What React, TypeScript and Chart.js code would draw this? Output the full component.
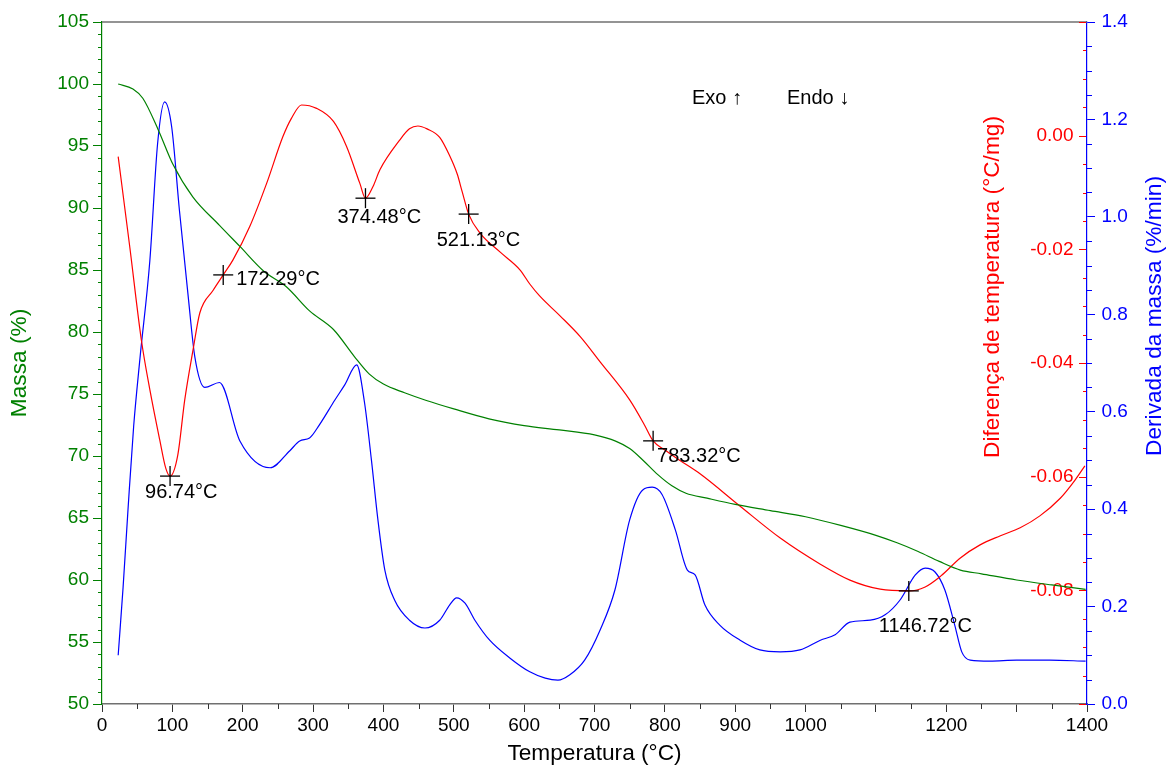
import React, { useEffect, useRef } from 'react';
import { Chart, registerables } from 'chart.js';

Chart.register(...registerables);

// ---------- DATA ----------
const massTemps = [23, 44, 58, 80, 101, 129, 167, 196, 230, 262, 295, 329, 359, 380, 400, 430, 460, 500, 550, 600, 650, 700, 730, 750, 770, 790, 810, 830, 860, 900, 950, 1000, 1050, 1100, 1130, 1160, 1190, 1220, 1250, 1300, 1350, 1398];
const massValues = [100.0, 99.6, 98.85, 96.3, 93.5, 90.9, 88.6, 86.9, 84.9, 83.65, 81.7, 80.2, 78.0, 76.6, 75.8, 75.1, 74.5, 73.8, 73.0, 72.45, 72.1, 71.7, 71.2, 70.6, 69.6, 68.5, 67.6, 67.0, 66.6, 66.1, 65.6, 65.1, 64.4, 63.6, 63.0, 62.3, 61.5, 60.8, 60.5, 60.0, 59.6, 59.25];

const dtaTemps = [23, 39.4, 56, 68, 82, 90.6, 96.74, 107.7, 117.6, 129.4, 139, 158, 172.29, 186, 210, 234, 257, 269, 283.6, 305, 329, 347.6, 366.5, 374.48, 385, 395, 423, 437, 449, 462, 480, 494, 505, 512, 521.13, 537, 566, 594, 608, 622, 651, 680, 708, 750, 771, 783.32, 800, 821, 850, 907, 964, 1021, 1063, 1106, 1146.72, 1170, 1192, 1220, 1248, 1277, 1305, 1333, 1362, 1383, 1397];
const dtaValues = [-0.0037, -0.0195, -0.036, -0.0447, -0.0535, -0.0585, -0.0599, -0.0562, -0.0465, -0.0377, -0.0312, -0.0272, -0.0245, -0.0219, -0.016, -0.0084, -0.0002, 0.003, 0.0054, 0.0048, 0.0025, -0.0019, -0.0084, -0.011, -0.009, -0.006, -0.0008, 0.0012, 0.0017, 0.0012, -0.0003, -0.0035, -0.0068, -0.0099, -0.0138, -0.0171, -0.0205, -0.0236, -0.0261, -0.0282, -0.0317, -0.0354, -0.0398, -0.0465, -0.0509, -0.0537, -0.0553, -0.0571, -0.0595, -0.0652, -0.0708, -0.0754, -0.0782, -0.0798, -0.0801, -0.0794, -0.0775, -0.0743, -0.072, -0.0704, -0.069, -0.0669, -0.0638, -0.0606, -0.0581];

const dtgTemps = [23, 30, 37, 45, 54, 68, 79, 89, 99, 110, 122, 132, 146, 167, 196, 239, 267, 281, 295, 309, 331, 345, 362, 373, 383, 392, 402, 416, 437, 459, 480, 494, 504, 516, 530, 551, 580, 608, 630, 648, 665, 686, 708, 729, 750, 769, 782, 796, 815, 832, 843, 857, 878, 907, 935, 964, 992, 1021, 1042, 1063, 1092, 1113, 1134, 1156, 1170, 1184, 1198, 1212, 1222, 1234, 1262, 1300, 1347, 1398];
const dtgValues = [0.10, 0.24, 0.40, 0.57, 0.71, 0.91, 1.15, 1.236, 1.185, 1.014, 0.844, 0.712, 0.65, 0.66, 0.54, 0.485, 0.52, 0.54, 0.546, 0.573, 0.624, 0.655, 0.696, 0.62, 0.50, 0.38, 0.275, 0.213, 0.172, 0.156, 0.172, 0.203, 0.218, 0.207, 0.172, 0.131, 0.094, 0.066, 0.053, 0.049, 0.06, 0.09, 0.152, 0.234, 0.378, 0.44, 0.445, 0.43, 0.357, 0.275, 0.265, 0.203, 0.162, 0.131, 0.111, 0.107, 0.111, 0.131, 0.142, 0.168, 0.172, 0.183, 0.213, 0.265, 0.279, 0.271, 0.234, 0.162, 0.107, 0.09, 0.088, 0.09, 0.09, 0.088];

const peakTemps = [96.74, 172.29, 374.48, 521.13, 783.32, 1146.72];
const peakDta = [-0.0599, -0.0245, -0.011, -0.0138, -0.0537, -0.0801];
const peakLabels = peakTemps.map((t) => t.toFixed(2) + '°C');

const xHiddenTickLabels = [1100, 1300];
const dtaLabelMin = -0.08;
const dtaLabelMax = 0.0;

// ---------- STYLE ----------
const FONT = '"Liberation Sans", Arial, Helvetica, sans-serif';
const GREEN = '#008000';
const RED = '#ff0000';
const BLUE = '#0000ff';
const AXIS_GRAY = '#707070';
const TICK_SIZE = 19;
const TITLE_SIZE = 22.7;
const NOTE_SIZE = 20;
// label offsets (px) from each crosshair: [dx of text left edge, dy of text middle]
const peakLabelOffsets = [[-25, 16], [13, 5], [-28, 19], [-32, 26], [4, 16], [-30, 36]];

const xy = (xs: number[], ys: number[]) => xs.map((x, i) => ({ x, y: ys[i] }));

const decorPlugin = {
  id: 'decor',
  afterDraw(chart: any) {
    const { ctx, chartArea: ca, scales } = chart;
    const sx = scales.x, sy = scales.y, sR = scales.yR, sB = scales.yB;
    const line = (x1: number, y1: number, x2: number, y2: number) => {
      ctx.beginPath();
      ctx.moveTo(x1, y1);
      ctx.lineTo(x2, y2);
      ctx.stroke();
    };
    ctx.save();
    // top frame line
    ctx.strokeStyle = AXIS_GRAY;
    ctx.lineWidth = 1.5;
    line(ca.left, ca.top, ca.right, ca.top);

    // x minor ticks
    ctx.strokeStyle = '#333';
    ctx.lineWidth = 1;
    for (let v = sx.min + 50; v < sx.max; v += 100) {
      const px = Math.round(sx.getPixelForValue(v)) + 0.5;
      line(px, ca.bottom, px, ca.bottom + 5);
    }
    // left (mass) minor ticks
    ctx.strokeStyle = GREEN;
    for (let v = sy.min + 1; v < sy.max; v += 1) {
      if (v % 5 === 0) continue;
      const py = Math.round(sy.getPixelForValue(v)) + 0.5;
      line(ca.left - 4, py, ca.left, py);
    }
    // blue minor ticks (outward)
    ctx.strokeStyle = BLUE;
    for (let i = 1; i < 28; i++) {
      if (i % 4 === 0) continue;
      const py = Math.round(sB.getPixelForValue(i * 0.05)) + 0.5;
      line(ca.right, py, ca.right + 5, py);
    }
    // red ticks (inward)
    ctx.strokeStyle = RED;
    for (let i = 0; i <= 24; i++) {
      const v = sR.min + i * 0.005;
      const len = i % 4 === 0 ? 8 : 4;
      const py = Math.round(sR.getPixelForValue(v)) + 0.5;
      line(ca.right - len, py, ca.right - 1, py);
    }

    // crosshairs + labels
    ctx.strokeStyle = '#000';
    ctx.lineWidth = 1.3;
    ctx.fillStyle = '#000';
    ctx.font = `${NOTE_SIZE}px ${FONT}`;
    ctx.textAlign = 'left';
    ctx.textBaseline = 'middle';
    peakTemps.forEach((t, i) => {
      const px = sx.getPixelForValue(t);
      const py = sR.getPixelForValue(peakDta[i]);
      line(px - 10, py, px + 10, py);
      line(px, py - 10, px, py + 10);
      const [dx, dy] = peakLabelOffsets[i];
      ctx.fillText(peakLabels[i], px + dx, py + dy);
    });

    // Exo / Endo
    ctx.fillText('Exo ↑', ca.left + 590, ca.top + 76);
    ctx.fillText('Endo ↓', ca.left + 685, ca.top + 76);

    // right axis titles (reading upward)
    ctx.font = `${TITLE_SIZE}px ${FONT}`;
    ctx.textAlign = 'center';
    ctx.save();
    ctx.translate(ca.right - 94, ca.top + 265);
    ctx.rotate(-Math.PI / 2);
    ctx.fillStyle = RED;
    ctx.fillText('Diferença de temperatura (°C/mg)', 0, 0);
    ctx.restore();
    ctx.save();
    ctx.translate(ca.right + 68, ca.top + 294);
    ctx.rotate(-Math.PI / 2);
    ctx.fillStyle = BLUE;
    ctx.fillText('Derivada da massa (%/min)', 0, 0);
    ctx.restore();

    ctx.restore();
  },
};

export default function App() {
  const ref = useRef<HTMLCanvasElement | null>(null);

  useEffect(() => {
    if (!ref.current) return;
    Chart.defaults.font.family = FONT;
    const tickFont = { family: FONT, size: TICK_SIZE };
    const chart = new Chart(ref.current, {
      type: 'line',
      data: {
        datasets: [
          {
            label: 'Massa',
            data: xy(massTemps, massValues),
            borderColor: GREEN,
            borderWidth: 1.2,
            pointRadius: 0,
            yAxisID: 'y',
            cubicInterpolationMode: 'monotone',
          },
          {
            label: 'DTA',
            data: xy(dtaTemps, dtaValues),
            borderColor: RED,
            borderWidth: 1.2,
            pointRadius: 0,
            yAxisID: 'yR',
            cubicInterpolationMode: 'monotone',
          },
          {
            label: 'DTG',
            data: xy(dtgTemps, dtgValues),
            borderColor: BLUE,
            borderWidth: 1.2,
            pointRadius: 0,
            yAxisID: 'yB',
            cubicInterpolationMode: 'monotone',
          },
        ],
      },
      options: {
        responsive: false,
        animation: false,
        devicePixelRatio: 1,
        layout: { padding: { top: 22, left: 0, right: 0, bottom: 0 } },
        plugins: { legend: { display: false }, tooltip: { enabled: false } },
        scales: {
          x: {
            type: 'linear',
            position: 'bottom',
            min: 0,
            max: 1400,
            ticks: {
              stepSize: 100,
              autoSkip: false,
              maxRotation: 0,
              color: '#000',
              font: tickFont,
              padding: 2,
              callback: (v: any) => (xHiddenTickLabels.includes(Number(v)) ? '' : String(v)),
            },
            grid: { drawOnChartArea: false, drawTicks: true, tickLength: 8, tickColor: '#333', tickWidth: 1 },
            border: { display: true, color: AXIS_GRAY, width: 1.5 },
            title: {
              display: true,
              text: 'Temperatura (°C)',
              color: '#000',
              font: { family: FONT, size: TITLE_SIZE },
              padding: { top: 0, bottom: 0 },
            },
            afterFit: (s: any) => { s.height = 63; },
          },
          y: {
            type: 'linear',
            position: 'left',
            min: 50,
            max: 105,
            ticks: { stepSize: 5, color: GREEN, font: tickFont, padding: 4 },
            grid: { drawOnChartArea: false, tickLength: 9, tickColor: GREEN, tickWidth: 1 },
            border: { color: GREEN, width: 1.2 },
            title: {
              display: true,
              text: 'Massa (%)',
              color: GREEN,
              font: { family: FONT, size: TITLE_SIZE },
              padding: { top: 6, bottom: 0 },
            },
            afterFit: (s: any) => { s.width = 102; },
          },
          yR: {
            type: 'linear',
            position: 'right',
            weight: 0,
            min: -0.1,
            max: 0.02,
            ticks: {
              stepSize: 0.02,
              mirror: true,
              padding: -13.5,
              color: RED,
              font: tickFont,
              callback: (v: any) => {
                const n = Number(v);
                if (n < dtaLabelMin - 1e-6 || n > dtaLabelMax + 1e-6) return '';
                return Math.abs(n) < 1e-9 ? '0.00' : n.toFixed(2);
              },
            },
            grid: { drawOnChartArea: false, drawTicks: false },
            border: { display: false },
            afterFit: (s: any) => { s.width = 0; },
          },
          yB: {
            type: 'linear',
            position: 'right',
            weight: 1,
            min: 0,
            max: 1.4,
            ticks: {
              stepSize: 0.2,
              color: BLUE,
              font: tickFont,
              padding: 6.5,
              callback: (v: any) => Number(v).toFixed(1),
            },
            grid: { drawOnChartArea: false, tickLength: 8, tickColor: BLUE, tickWidth: 1 },
            border: { color: BLUE, width: 1.2 },
            afterFit: (s: any) => { s.width = 79; },
          },
        },
      } as any,
      plugins: [decorPlugin],
    });
    return () => chart.destroy();
  }, []);

  return (
    <div style={{ position: 'fixed', left: 0, top: 0, width: 1166, height: 767, background: '#fff' }}>
      <canvas ref={ref} width={1166} height={767} style={{ display: 'block' }} />
    </div>
  );
}
